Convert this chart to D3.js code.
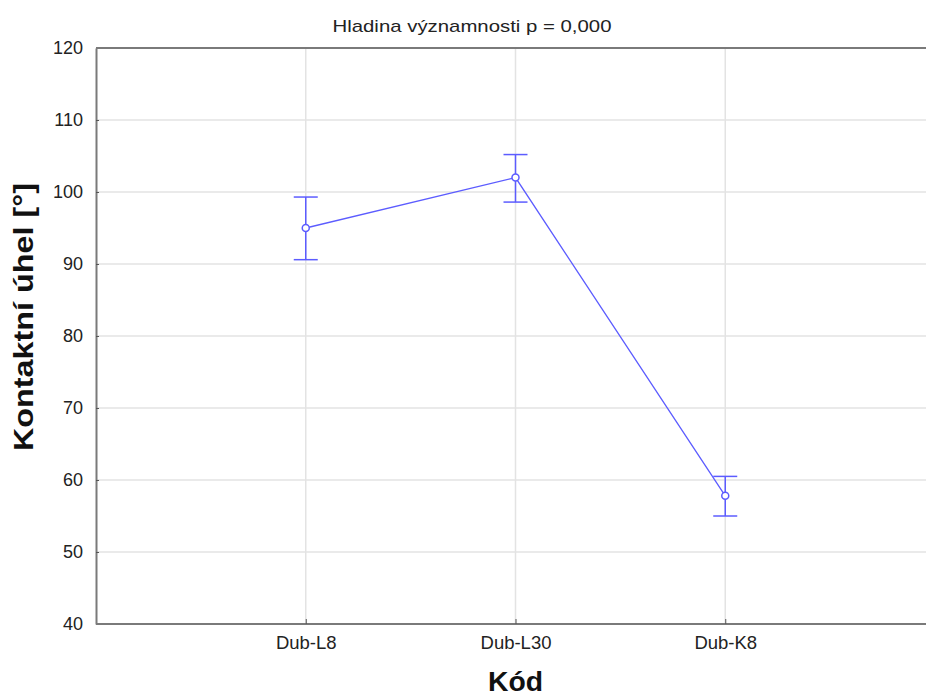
<!DOCTYPE html>
<html>
<head>
<meta charset="utf-8">
<script src="https://cdn.jsdelivr.net/npm/d3@7"></script>
<style>
  body { margin: 0; background: #fff; }
  svg { display: block; font-family: "Liberation Sans", Arial, sans-serif; }
</style>
</head>
<body>
<div id="chart"></div>
<script>
// Data
const categories = ['Dub-L8', 'Dub-L30', 'Dub-K8'];
const means = [95.0, 102.0, 57.8];
const upper = [99.3, 105.2, 60.5];
const lower = [90.6, 98.6, 55.0];
const yTicks = [40, 50, 60, 70, 80, 90, 100, 110, 120];

const width = 926, height = 695;
const margin = { top: 48, right: 0, bottom: 71, left: 96 };
const lineColor = '#5c5cff';

const svg = d3.select('#chart').append('svg')
    .attr('width', width)
    .attr('height', height);

// x: category index 1..3 inside domain 0..4 (plot runs past right edge)
const x = d3.scaleLinear().domain([0, 4]).range([margin.left, 935]);
const y = d3.scaleLinear().domain([40, 120]).range([height - margin.bottom, margin.top]);

const plotBottom = y(40), plotTop = y(120);

// Grid lines
svg.append('g').selectAll('line.hgrid')
    .data(yTicks.slice(1, -1))
    .join('line')
    .attr('x1', margin.left).attr('x2', width)
    .attr('y1', d => y(d)).attr('y2', d => y(d))
    .attr('stroke', '#e3e3e3').attr('stroke-width', 1.5);

svg.append('g').selectAll('line.vgrid')
    .data(categories)
    .join('line')
    .attr('x1', (d, i) => x(i + 1)).attr('x2', (d, i) => x(i + 1))
    .attr('y1', plotTop).attr('y2', plotBottom)
    .attr('stroke', '#e3e3e3').attr('stroke-width', 1.5);

// Y axis
const yAxis = svg.append('g')
    .attr('transform', `translate(${margin.left},0)`)
    .call(d3.axisLeft(y).tickValues(yTicks).tickSizeInner(-3).tickSizeOuter(0).tickPadding(13));
yAxis.select('.domain').attr('stroke', '#7a7a7a').attr('stroke-width', 2);
yAxis.selectAll('.tick line').attr('stroke', '#555');
yAxis.selectAll('.tick text')
    .attr('fill', '#222').style('font-size', '18px');

// X axis
const xAxis = svg.append('g')
    .attr('transform', `translate(0,${plotBottom})`)
    .call(d3.axisBottom(x).tickValues([1, 2, 3]).tickFormat(d => categories[d - 1])
        .tickSizeInner(-5).tickSizeOuter(0).tickPadding(12));
xAxis.select('.domain').attr('stroke', '#7a7a7a').attr('stroke-width', 2).attr('d', `M${margin.left},0H${width}`);
xAxis.selectAll('.tick line').attr('stroke', '#555');
xAxis.selectAll('.tick text')
    .attr('fill', '#222').style('font-size', '18.5px');

// Top border
svg.append('line')
    .attr('x1', margin.left).attr('x2', width)
    .attr('y1', plotTop).attr('y2', plotTop)
    .attr('stroke', '#7a7a7a').attr('stroke-width', 2);

// Title
svg.append('text')
    .attr('x', 472).attr('y', 32)
    .attr('text-anchor', 'middle')
    .style('font-size', '17px').attr('fill', '#222')
    .attr('textLength', 279).attr('lengthAdjust', 'spacingAndGlyphs')
    .text('Hladina významnosti p = 0,000');

// Axis titles
svg.append('text')
    .attr('x', x(2)).attr('y', 691)
    .attr('text-anchor', 'middle')
    .style('font-size', '27px').style('font-weight', 'bold').attr('fill', '#111')
    .attr('textLength', 55).attr('lengthAdjust', 'spacingAndGlyphs')
    .text('Kód');

svg.append('text')
    .attr('transform', `translate(33,${(plotTop + plotBottom) / 2 - 19}) rotate(-90)`)
    .attr('text-anchor', 'middle')
    .style('font-size', '27px').style('font-weight', 'bold').attr('fill', '#111')
    .attr('textLength', 268).attr('lengthAdjust', 'spacingAndGlyphs')
    .text('Kontaktní úhel [°]');

// Error bars
const bars = svg.append('g').attr('stroke', lineColor).attr('stroke-width', 1.5);
categories.forEach((c, i) => {
    const cx = x(i + 1);
    bars.append('line').attr('x1', cx).attr('x2', cx).attr('y1', y(upper[i])).attr('y2', y(lower[i]));
    bars.append('line').attr('x1', cx - 12).attr('x2', cx + 12).attr('y1', y(upper[i])).attr('y2', y(upper[i]));
    bars.append('line').attr('x1', cx - 12).attr('x2', cx + 12).attr('y1', y(lower[i])).attr('y2', y(lower[i]));
});

// Mean line
const line = d3.line().x((d, i) => x(i + 1)).y(d => y(d));
svg.append('path')
    .datum(means)
    .attr('d', line)
    .attr('fill', 'none')
    .attr('stroke', lineColor)
    .attr('stroke-width', 1.3);

svg.append('g').selectAll('circle')
    .data(means)
    .join('circle')
    .attr('cx', (d, i) => x(i + 1))
    .attr('cy', d => y(d))
    .attr('r', 3.5)
    .attr('fill', 'white')
    .attr('stroke', lineColor)
    .attr('stroke-width', 1.5);
</script>
</body>
</html>
